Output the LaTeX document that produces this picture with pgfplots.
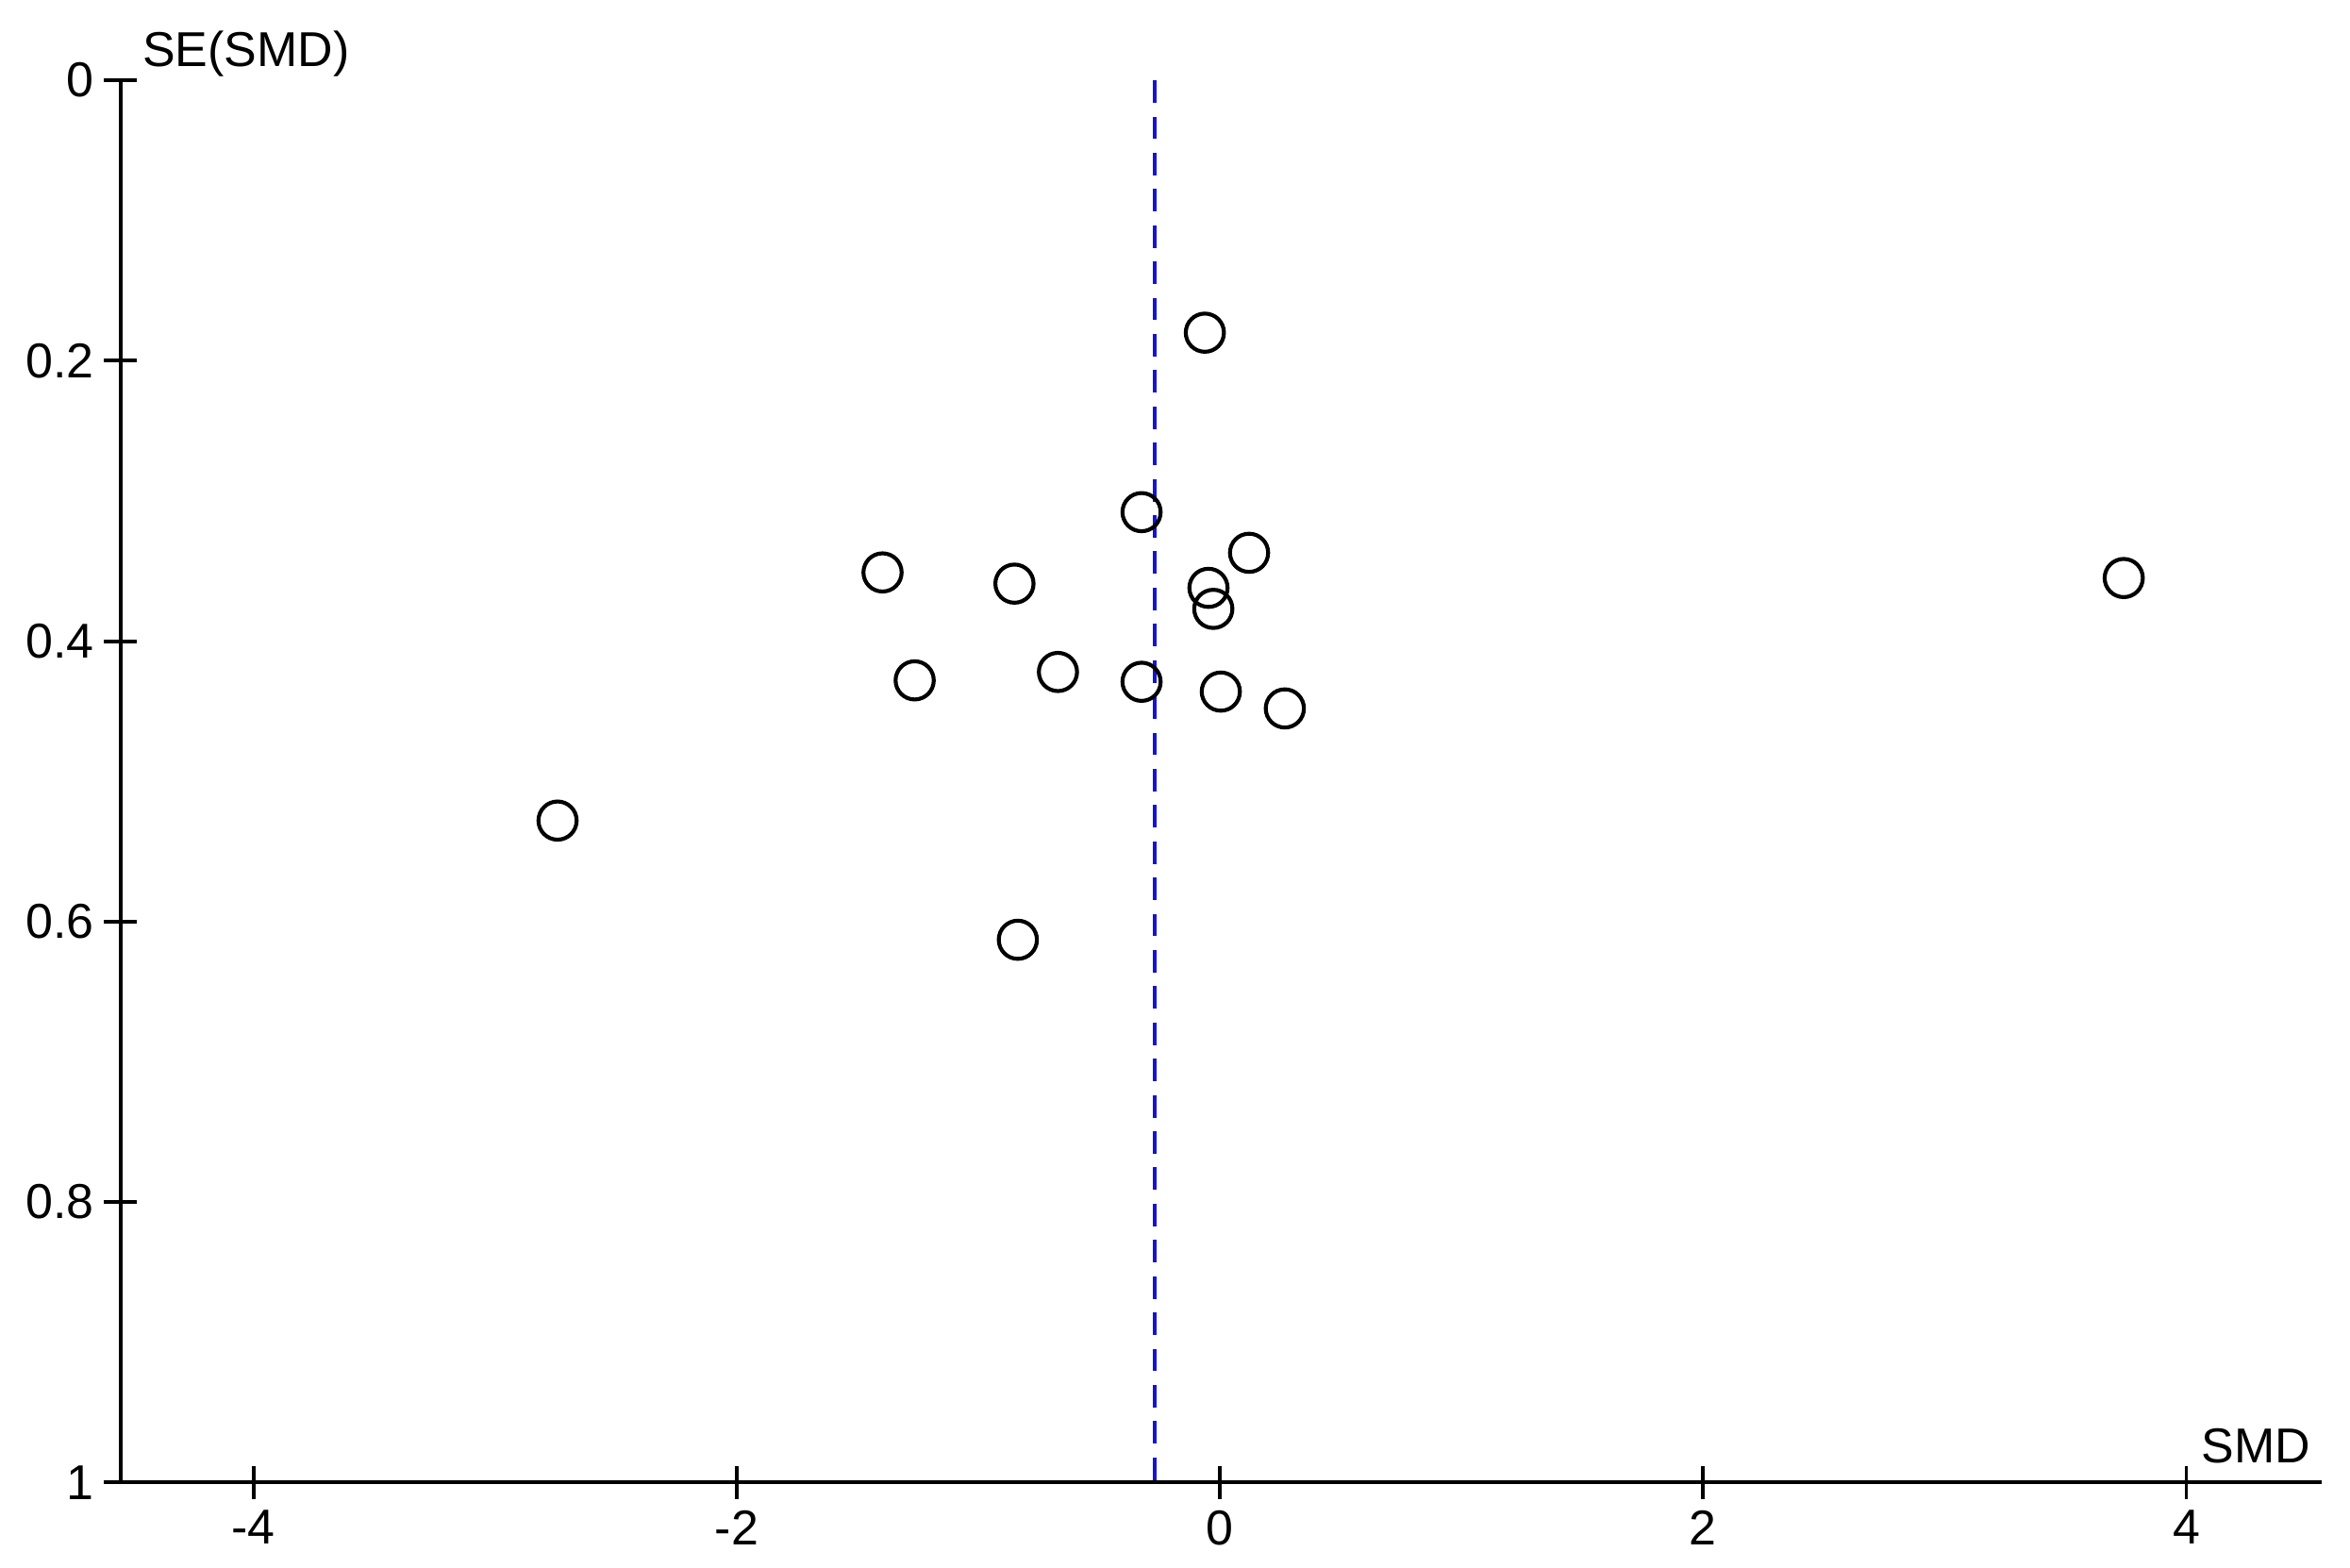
\documentclass[border=0pt]{standalone}
\usepackage{fontspec}
\setmainfont{Liberation Sans}
\usepackage{pgfplots}
\pgfplotsset{compat=1.18}
\definecolor{refblue}{RGB}{20,20,210}

% funnel plot: SMD against its standard error
\pgfplotstableread{
smd     se
-0.062  0.180
-0.324  0.308
0.121   0.337
-1.396  0.351
-0.850  0.359
-0.047  0.362
-0.027  0.377
3.741   0.355
-1.263  0.428
-0.670  0.422
-0.324  0.429
0.004   0.436
0.269   0.448
-2.741  0.528
-0.836  0.613
}\studies

\begin{document}
\fontsize{10}{12}\selectfont
\begin{tikzpicture}
  \begin{axis}[
    name=ax,
    scale only axis,
    width=449.5pt, height=286.3pt,
    xmin=-4.55, xmax=4.56,
    ymin=0, ymax=1,
    y dir=reverse,
    xtick={-4,-2,0,2,4},
    ytick={0,0.2,0.4,0.6,0.8,1},
    axis x line=bottom, axis y line=left,
    axis line style={-, line width=0.75pt},
    tick style={line width=0.75pt, black},
    tick align=center,
    major tick length=6.8pt,
    /pgf/number format/assume math mode=true,
    ticklabel style={font=\fontsize{10}{12}\selectfont},
    yticklabel style={xshift=1.5pt},
    xticklabel style={yshift=1.2pt},
    xlabel={SMD},
    xlabel style={anchor=base east, at={(axis description cs:1,0)},
                  xshift=1.3pt, yshift=3.9pt},
    ylabel={SE(SMD)},
    ylabel style={rotate=-90, anchor=base west,
                  at={(axis description cs:0,1)}, xshift=1pt, yshift=2.8pt},
    clip=false,
  ]
    \addplot[refblue, line width=0.85pt, dash pattern=on 4.6pt off 2.8pt]
      coordinates {(-0.27,0) (-0.27,1)};
    \addplot[only marks, mark=o, mark size=3.9pt,
             mark options={line width=0.8pt, black}]
      table[x=smd, y=se] {\studies};
  \end{axis}
  \pgfresetboundingbox
  \useasboundingbox ([xshift=-24.6pt, yshift=-17.3pt]ax.south west)
    rectangle ([xshift=5.8pt, yshift=16.4pt]ax.north east);
\end{tikzpicture}
\end{document}
